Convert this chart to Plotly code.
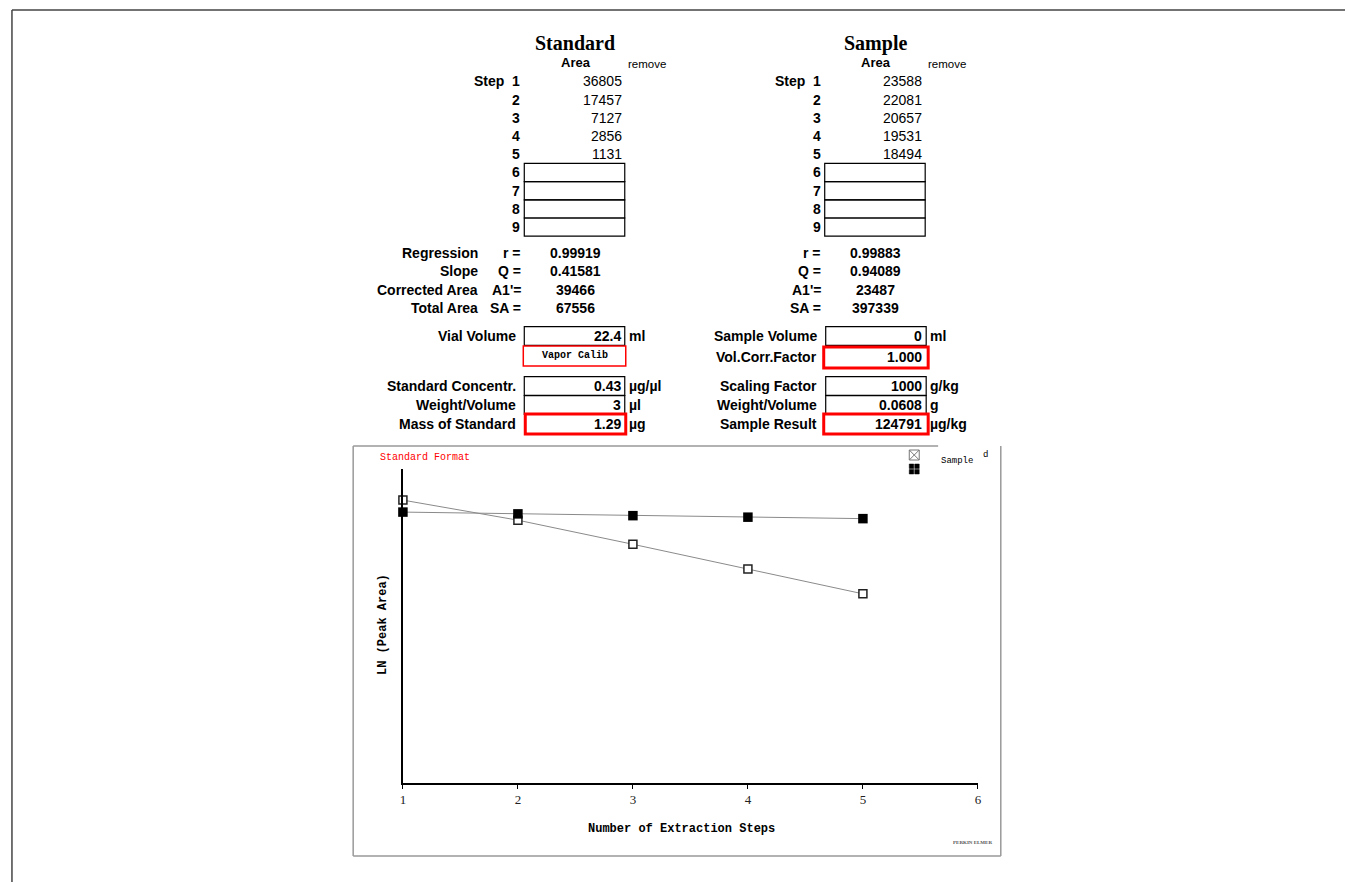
import plotly.graph_objects as go
import numpy as np

W, H = 1349, 882

# ---------------- data ----------------
steps = [1, 2, 3, 4, 5]
standard_area = [36805, 17457, 7127, 2856, 1131]
sample_area = [23588, 22081, 20657, 19531, 18494]
empty_steps = [6, 7, 8, 9]
x_ticks = [1, 2, 3, 4, 5, 6]

stat_labels = ["Regression", "Slope", "Corrected Area", "Total Area"]
stat_symbols = ["r =", "Q =", "A1'=", "SA ="]
std_stat_values = ["0.99919", "0.41581", "39466", "67556"]
smp_stat_values = ["0.99883", "0.94089", "23487", "397339"]

std_param_labels = ["Vial Volume", "Standard Concentr.", "Weight/Volume", "Mass of Standard"]
std_param_values = ["22.4", "0.43", "3", "1.29"]
std_param_units = ["ml", "µg/µl", "µl", "µg"]

smp_param_labels = ["Sample Volume", "Vol.Corr.Factor", "Scaling Factor", "Weight/Volume", "Sample Result"]
smp_param_values = ["0", "1.000", "1000", "0.0608", "124791"]
smp_param_units = ["ml", "", "g/kg", "g", "µg/kg"]

# ---------------- helpers ----------------
SANS = "Liberation Sans, Arial, sans-serif"
SERIF = "Liberation Serif, Times New Roman, serif"
MONO = "Liberation Mono, Courier New, monospace"


def px(x):
    return x / W


def py(y):
    return 1 - y / H


fig = go.Figure()


def text(x, y, s, size=14, bold=True, xanchor="center", color="black", family=SANS, angle=0):
    fig.add_annotation(x=px(x), y=py(y), xref="paper", yref="paper",
                       text=("<b>%s</b>" % s) if bold else s, showarrow=False,
                       xanchor=xanchor, yanchor="middle", borderpad=0, textangle=angle,
                       font=dict(family=family, size=size, color=color))


def rect(x0, y0, x1, y1, color="black", width=1.2, fill=None):
    fig.add_shape(type="rect", xref="paper", yref="paper",
                  x0=px(x0), x1=px(x1), y0=py(y1), y1=py(y0),
                  line=dict(color=color, width=width),
                  fillcolor=fill if fill else "rgba(0,0,0,0)", layer="above")


def line(x0, y0, x1, y1, color="black", width=1):
    fig.add_shape(type="line", xref="paper", yref="paper",
                  x0=px(x0), x1=px(x1), y0=py(y0), y1=py(y1),
                  line=dict(color=color, width=width), layer="above")


# ---------------- chart traces ----------------
fig.add_trace(go.Scatter(
    x=steps, y=np.log(standard_area), mode="lines+markers", name="Standard",
    line=dict(color="#8a8a8a", width=1),
    marker=dict(symbol="square", size=8, color="white", line=dict(color="#222222", width=1.5)),
    cliponaxis=False))
fig.add_trace(go.Scatter(
    x=steps, y=np.log(sample_area), mode="lines+markers", name="Sample",
    line=dict(color="#8a8a8a", width=1),
    marker=dict(symbol="square", size=9.5, color="black", line=dict(color="black", width=0)),
    cliponaxis=False))

fig.update_layout(
    width=W, height=H, autosize=False,
    margin=dict(l=0, r=0, t=0, b=0),
    paper_bgcolor="white", plot_bgcolor="white",
    showlegend=False,
    xaxis=dict(domain=[px(402), px(980)], range=[1, 6], tickvals=x_ticks,
               showline=True, linecolor="black", linewidth=1.5,
               ticks="outside", ticklen=4, tickcolor="black", tickwidth=1,
               showgrid=False, zeroline=False,
               tickfont=dict(family=SERIF, size=13, color="#222222")),
    yaxis=dict(domain=[py(783), py(469)], range=[0, 11.67],
               showline=True, linecolor="black", linewidth=1.5,
               showticklabels=False, ticks="", showgrid=False, zeroline=False),
)

# ---------------- page and chart frames ----------------
line(9, 10, 1349, 10, "#444444", 1.5)
line(9, 10, 9, 882, "#444444", 1.5)

line(352, 446, 940, 446, "#999999", 1.5)
line(352, 446, 352, 856, "#999999", 1.5)
line(352, 856, 1003, 856, "#999999", 1.5)
line(1003, 446, 1003, 856, "#999999", 1.5)

# chart texts
text(378, 457, "Standard Format", size=10, bold=False, xanchor="left", color="red", family=MONO)
text(682, 829, "Number of Extraction Steps", size=12, bold=True, family=MONO)
text(382, 625, "LN (Peak Area)", size=12, bold=True, family=MONO, angle=-90)
text(975, 842, "PERKIN ELMER", size=5, bold=True, color="#555555", family=SERIF)

# legend icons
rect(911, 450, 921, 460, "#777777", 1)
line(911, 450, 921, 460, "#777777", 1)
line(911, 460, 921, 450, "#777777", 1)
for dx in (0, 1):
    for dy in (0, 1):
        rect(911 + dx * 5.5, 464 + dy * 5.5, 915.5 + dx * 5.5, 468.5 + dy * 5.5, "black", 0.5, "black")
text(942, 461, "Sample", size=9, bold=False, xanchor="left", family=MONO)
text(984, 455, "d", size=9, bold=False, xanchor="left", family=MONO)

# ---------------- tables ----------------
OFF = 302  # horizontal offset between Standard and Sample blocks
row_y0, row_dy = 81.5, 18.2

for k, (title, areas) in enumerate([("Standard", standard_area), ("Sample", sample_area)]):
    o = k * OFF
    text(575 + o, 43, title, size=20, bold=True, family=SERIF)
    text(576 + o, 63, "Area", size=13, bold=True)
    text(647 + o, 64, "remove", size=11.5, bold=False)
    text(505 + o, row_y0, "Step", size=14, bold=True, xanchor="right")
    for i, (s, a) in enumerate(zip(steps, areas)):
        yy = row_y0 + i * row_dy
        text(521 + o, yy, str(s), size=14, bold=True, xanchor="right")
        text(623 + o, yy, str(a), size=14, bold=False, xanchor="right")
    for j, s in enumerate(empty_steps):
        yy = row_y0 + (len(steps) + j) * row_dy
        text(521 + o, yy, str(s), size=14, bold=True, xanchor="right")
        rect(524 + o, yy - row_dy / 2, 625 + o, yy + row_dy / 2, "black", 1.2)

# regression statistics
stat_y0, stat_dy = 253, 18.3
for i in range(len(stat_labels)):
    yy = stat_y0 + i * stat_dy
    text(478, yy, stat_labels[i], size=14, xanchor="right")
    text(522, yy, stat_symbols[i], size=14, xanchor="right")
    text(575, yy, std_stat_values[i], size=14)
    text(823, yy, stat_symbols[i], size=14, xanchor="right")
    text(877, yy, smp_stat_values[i], size=14)

# standard parameters
std_rows_y = [336, 386, 405, 424]
for i, yy in enumerate(std_rows_y):
    text(517, yy, std_param_labels[i], size=14, xanchor="right")
    text(622, yy, std_param_values[i], size=14, xanchor="right")
    text(628, yy, std_param_units[i], size=14, xanchor="left")
    if i == len(std_rows_y) - 1:
        rect(525, 414, 626, 434, "red", 3)
    else:
        rect(524, yy - 9.3, 625, yy + 9.3, "black", 1.2)
rect(523, 346, 626, 366, "red", 1.5)
text(575, 356, "Vapor Calib", size=10, bold=True, family=MONO)

# sample parameters
smp_rows_y = [336, 357, 386, 405, 424]
for i, yy in enumerate(smp_rows_y):
    text(819, yy, smp_param_labels[i], size=14, xanchor="right")
    text(925, yy, smp_param_values[i], size=14, xanchor="right")
    if smp_param_units[i]:
        text(931, yy, smp_param_units[i], size=14, xanchor="left")
    if i == 1:
        rect(825, 347, 930, 368, "red", 3)
    elif i == len(smp_rows_y) - 1:
        rect(825, 414, 930, 434, "red", 3)
    else:
        rect(827, yy - 9.3, 928, yy + 9.3, "black", 1.2)

fig.write_html("out.html",
               config={"displayModeBar": False},
               post_script="document.body.style.margin='0';document.body.style.overflow='hidden';")
